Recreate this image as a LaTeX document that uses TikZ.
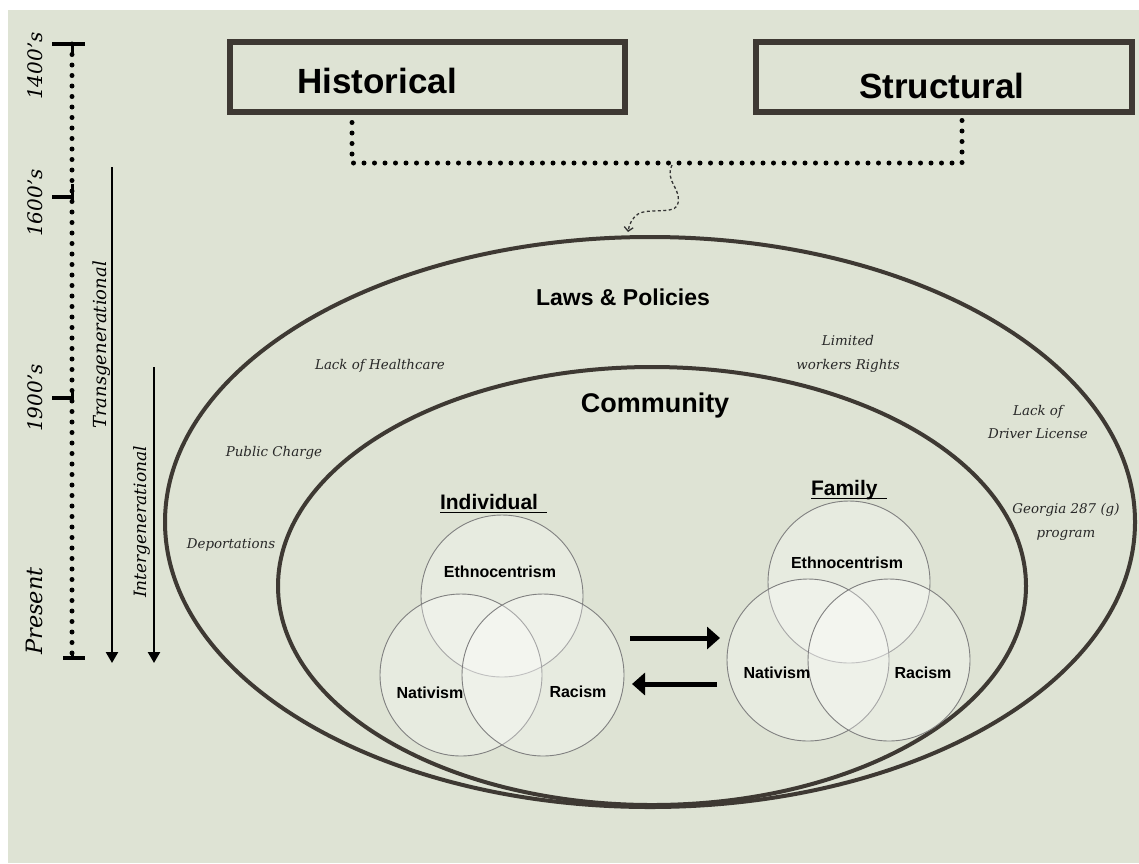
\documentclass[tikz,border=0pt]{standalone}
\usepackage{fontspec}
\setmainfont{DejaVu Serif}
\newfontfamily\headfont{Liberation Sans}
\usetikzlibrary{arrows.meta, calc, shapes.geometric}

\definecolor{sage}{RGB}{222,227,212}
\definecolor{bark}{RGB}{62,57,51}
\definecolor{ink}{RGB}{40,40,40}

\begin{document}
\begin{tikzpicture}[x=1pt, y=-1pt,
    every node/.style={inner sep=0pt, outer sep=0pt},
    topbox/.style={draw=bark, line width=6pt, minimum height=70pt},
    ring/.style={ellipse, draw=bark, line width=4pt},
    venn/.style={circle, draw=black!50, line width=0.9pt, fill=white, fill opacity=0.3, minimum size=162pt},
    dotline/.style={line width=5pt, line cap=round, dash pattern=on 0pt off 10.5pt},
    boxtitle/.style={anchor=base, font=\headfont\bfseries\fontsize{35}{42}\selectfont},
    ringtitle/.style={anchor=base, font=\headfont\bfseries\fontsize{#1}{#1}\selectfont},
    trait/.style={anchor=base, font=\headfont\bfseries\fontsize{16}{19}\selectfont},
    policy/.style={align=center, text=ink, font=\itshape\fontsize{13.4}{23.5}\selectfont},
    era/.style={rotate=90, anchor=base, font=\itshape\fontsize{#1}{#1}\selectfont},
    flow/.style={line width=5pt, -{Triangle[length=13pt, width=22pt]}},
    agearrow/.style={line width=2.4pt, -{Triangle[length=11pt, width=12pt]}}
]

    % Page and background
    \fill[white] (0,0) rectangle (1139,863);
    \fill[sage] (8,10) rectangle (1139,863);
    \useasboundingbox (0,0) rectangle (1139,863);

    % Timeline
    \coordinate (tTop) at (72,44);
    \coordinate (tNow) at (72,658);
    \draw[dotline] (tTop) -- (tNow);
    \foreach \y/\a/\b in {44/52/85, 197/52/72, 398/52/72, 658/63/85}
        \draw[line width=4.5pt] (\a,\y) -- (\b,\y);
    \foreach \a/\b in {44/53, 184/200, 392/403, 651/658}
        \draw[line width=3pt] (72,\a) -- (72,\b);

    \node[era=20] (y1400) at (42,66) {1400's};
    \node[era=20] (y1600) at (42,203) {1600's};
    \node[era=20] (y1900) at (42,398) {1900's};
    \node[era=22.5] (yNow) at (42,611) {Present};

    % Generations
    \coordinate (transTop) at (112,167);
    \coordinate (transEnd) at (112,663);
    \coordinate (interTop) at (154,367);
    \coordinate (interEnd) at (154,663);
    \draw[agearrow] (transTop) -- (transEnd);
    \draw[agearrow] (interTop) -- (interEnd);
    \node[era=18] at (106,345) {Transgenerational};
    \node[era=17] at (146,522) {Intergenerational};

    % Historical and structural roots
    \coordinate (joinL) at (352,163);
    \coordinate (joinR) at (962,163);
    \node[topbox, minimum width=395pt] (hist) at (427.5,77) {};
    \node[topbox, minimum width=376pt] (struct) at (944,77) {};
    \draw[dotline] (hist.south -| joinL) -- (joinL) -- (joinR) -- (struct.south -| joinR);
    \node[topbox, minimum width=395pt] at (hist) {};
    \node[topbox, minimum width=376pt] at (struct) {};
    \node[boxtitle] at (377,93) {Historical};
    \node[boxtitle] at (942,98) {Structural};

    % Levels
    \node[ring, minimum width=970pt, minimum height=570pt] (laws) at (650,522) {};
    \node[ring, minimum width=748pt, minimum height=438pt] (comm) at (652,586) {};

    \coordinate (drop) at (672,165);
    \draw[black!80, line width=1.3pt, dash pattern=on 3pt off 2.5pt,
        -{Straight Barb[length=4pt, width=9pt]}]
        (drop) .. controls (664,182) and (684,190) .. (677,206)
        .. controls (672,214) and (648,208) .. (638,214)
        .. controls (632,218) and (629,225) .. ($(laws.north)+(-22,-5)$);

    \node[ringtitle=23] at (623,305) {Laws \& Policies};
    \node[ringtitle=27] at (655,412) {Community};

    % Policies
    \node[policy, anchor=base] at (380,369) {Lack of Healthcare};
    \node[policy, anchor=base] at (274,456) {Public Charge};
    \node[policy, anchor=base] at (231,548) {Deportations};
    \node[policy] at (848,354) {Limited\\workers Rights};
    \node[policy] at (1038,422) {Lack of\\Driver License};
    \node[policy] at (1066,522) {Georgia 287 (g)\\program};

    % Individual
    \node[venn] (indE) at (502,596) {};
    \node[venn] (indN) at (461,675) {};
    \node[venn] (indR) at (543,675) {};

    % Family
    \node[venn] (famE) at (849,582) {};
    \node[venn] (famN) at (808,660) {};
    \node[venn] (famR) at (889,660) {};

    \node[ringtitle=21, anchor=base west] (indHead) at (440,509) {Individual};
    \draw[line width=1.6pt] ($(indHead.base west)+(0,3.5)$) -- ($(indHead.base east)+(9,3.5)$);
    \node[ringtitle=21, anchor=base west] (famHead) at (811,495) {Family};
    \draw[line width=1.6pt] ($(famHead.base west)+(0,3.5)$) -- ($(famHead.base east)+(9,3.5)$);

    \node[trait] at (500,577) {Ethnocentrism};
    \node[trait] at (430,698) {Nativism};
    \node[trait] at (578,697) {Racism};
    \node[trait] at (847,568) {Ethnocentrism};
    \node[trait] at (777,678) {Nativism};
    \node[trait] at (923,678) {Racism};

    % Exchange between individual and family
    \draw[flow] ($(indR.east)+(6,-37)$) -- ($(famN.west)+(-7,-22)$);
    \draw[flow] ($(famN.west)+(-10,24)$) -- ($(indR.east)+(8,9)$);

\end{tikzpicture}
\end{document}
